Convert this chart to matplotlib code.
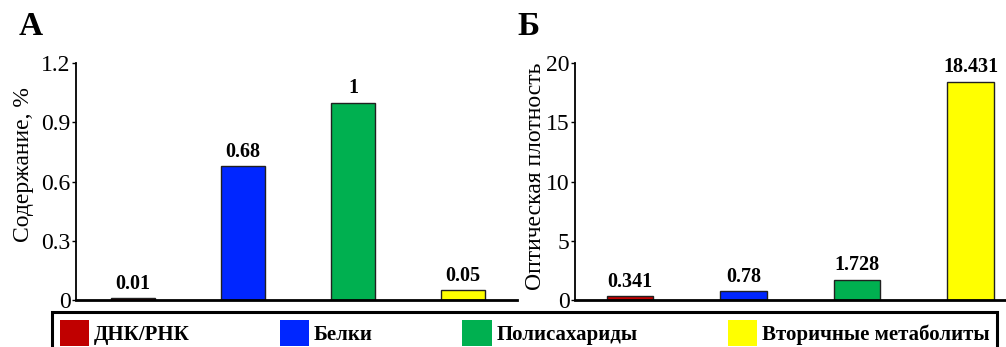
import matplotlib.pyplot as plt
from matplotlib.patches import Patch

plt.rcParams['font.family'] = ['Liberation Serif', 'DejaVu Serif']

categories = ['ДНК/РНК', 'Белки', 'Полисахариды', 'Вторичные метаболиты']
colors = ['#C00000', '#0026FF', '#00B050', '#FFFF00']
content_pct = [0.01, 0.68, 1, 0.05]
optical_density = [0.341, 0.78, 1.728, 18.431]

fig = plt.figure(figsize=(10.06, 3.47), dpi=100)
ax1 = fig.add_axes([0.0755, 0.1354, 0.4385, 0.683])
ax2 = fig.add_axes([0.5716, 0.1354, 0.427, 0.683])

x = range(len(categories))


def style(ax, ylim, ticks, ylabel, letter, label_xy, letter_x):
    ax.set_ylim(*ylim)
    ax.set_yticks(ticks)
    ax.set_yticklabels(['%g' % t for t in ticks], fontsize=17)
    ax.set_xticks([])
    for s in ('top', 'right'):
        ax.spines[s].set_visible(False)
    ax.spines['left'].set_linewidth(1.3)
    ax.spines['bottom'].set_linewidth(2)
    ax.tick_params(axis='y', length=3, width=1, pad=1)
    ax.set_ylabel(ylabel, fontsize=17)
    ax.yaxis.set_label_coords(*label_xy)
    ax.text(letter_x, 1.09, letter, transform=ax.transAxes, fontsize=24,
            fontweight='bold', ha='left', va='bottom')


b1 = ax1.bar(x, content_pct, width=0.4, color=colors, edgecolor='#202020', linewidth=1)
ax1.bar_label(b1, labels=['%g' % v for v in content_pct], padding=3,
              fontsize=14.5, fontweight='bold')
ax1.set_xlim(-0.52, 3.49)
style(ax1, (0, 1.2), [0, 0.3, 0.6, 0.9, 1.2], 'Содержание, %', 'A',
      (-0.095, 0.57), -0.13)

b2 = ax2.bar(x, optical_density, width=0.41, color=colors, edgecolor='#202020', linewidth=1)
ax2.bar_label(b2, labels=['%g' % v for v in optical_density], padding=3,
              fontsize=14.5, fontweight='bold')
ax2.set_xlim(-0.484, 3.3)
style(ax2, (0, 20), [0, 5, 10, 15, 20], 'Оптическая плотность', 'Б',
      (-0.068, 0.52), -0.135)

handles = [Patch(facecolor=c, edgecolor='none') for c in colors]
leg = fig.legend(handles, categories, loc='upper left', ncol=4, mode='expand',
                 bbox_to_anchor=(0.052, 0.0, 0.939, 0.1), fancybox=False,
                 edgecolor='black', handlelength=1.4, handleheight=1.6,
                 handletextpad=0.25, borderpad=0.35, borderaxespad=0,
                 prop={'size': 15, 'weight': 'bold'})
leg.get_frame().set_linewidth(2.2)
leg.get_frame().set_alpha(1)

fig.savefig('out.png', dpi=100)
